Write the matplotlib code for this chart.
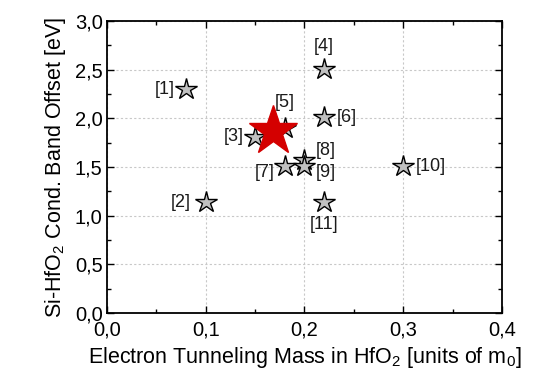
import matplotlib
matplotlib.use("Agg")
import matplotlib.pyplot as plt
from matplotlib.ticker import FuncFormatter, MultipleLocator

plt.rcParams['font.family'] = ['Liberation Sans', 'DejaVu Sans']
plt.rcParams['mathtext.fontset'] = 'custom'
plt.rcParams['mathtext.rm'] = 'Liberation Sans'
plt.rcParams['mathtext.it'] = 'Liberation Sans'

mass = [0.08, 0.10, 0.15, 0.22, 0.18, 0.22, 0.18, 0.20, 0.20, 0.30, 0.22]
offset = [2.30, 1.14, 1.81, 2.51, 1.90, 2.01, 1.51, 1.57, 1.51, 1.51, 1.14]
labels = ['[1]', '[2]', '[3]', '[4]', '[5]', '[6]', '[7]', '[8]', '[9]', '[10]', '[11]']
# label offsets in pixels (dx, dy, ha, va)
label_pos = [(-11, 0, 'right', 'center'), (-15, 0, 'right', 'center'), (-11, 0, 'right', 'center'),
             (0, 14, 'center', 'bottom'), (0, 17, 'center', 'bottom'), (13, 0, 'left', 'center'),
             (-10, -6, 'right', 'center'), (11, 10, 'left', 'center'), (11, -6, 'left', 'center'),
             (13, 0, 'left', 'center'), (0, -14, 'center', 'top')]
red_mass = [0.168]
red_offset = [1.87]

fig = plt.figure(figsize=(5.48, 3.8), dpi=100)
ax = fig.add_axes([0.195, 0.176, 0.721, 0.769])

ax.plot(mass, offset, linestyle='none', marker='*', markersize=16,
        markerfacecolor='#c0c0c0', markeredgecolor='black', markeredgewidth=1.0, zorder=3)
ax.plot(red_mass, red_offset, linestyle='none', marker='*', markersize=37,
        markerfacecolor='#d40000', markeredgecolor='#d40000', zorder=4)

for x, y, t, (dx, dy, ha, va) in zip(mass, offset, labels, label_pos):
    ax.annotate(t, (x, y), xytext=(dx, dy), textcoords='offset pixels',
                ha=ha, va=va, fontsize=13, color='#1a1a1a', zorder=5)

ax.set_xlim(0, 0.4)
ax.set_ylim(0, 3.0)
ax.xaxis.set_major_locator(MultipleLocator(0.1))
ax.xaxis.set_minor_locator(MultipleLocator(0.05))
ax.yaxis.set_major_locator(MultipleLocator(0.5))
ax.yaxis.set_minor_locator(MultipleLocator(0.25))
fmt = FuncFormatter(lambda v, p: f"{v:.1f}".replace('.', ','))
ax.xaxis.set_major_formatter(fmt)
ax.yaxis.set_major_formatter(fmt)
ax.tick_params(which='both', direction='in', top=True, right=True, labelsize=14.5, width=1,
               colors='black')
ax.tick_params(axis='x', which='major', pad=5)
ax.tick_params(axis='y', which='major', pad=3)
ax.tick_params(which='major', length=5)
ax.tick_params(which='minor', length=3)
ax.grid(True, which='major', linestyle=(0, (2, 2)), color='#c8c8c8', linewidth=0.8)
ax.set_axisbelow(True)
for s in ax.spines.values():
    s.set_linewidth(1.3)

ax.set_xlabel('Electron Tunneling Mass in HfO$_2$ [units of m$_0$]', fontsize=15.5, labelpad=4)
ax.set_ylabel('Si-HfO$_2$ Cond. Band Offset [eV]', fontsize=15.5, labelpad=5)

fig.savefig('out.png', dpi=100)
